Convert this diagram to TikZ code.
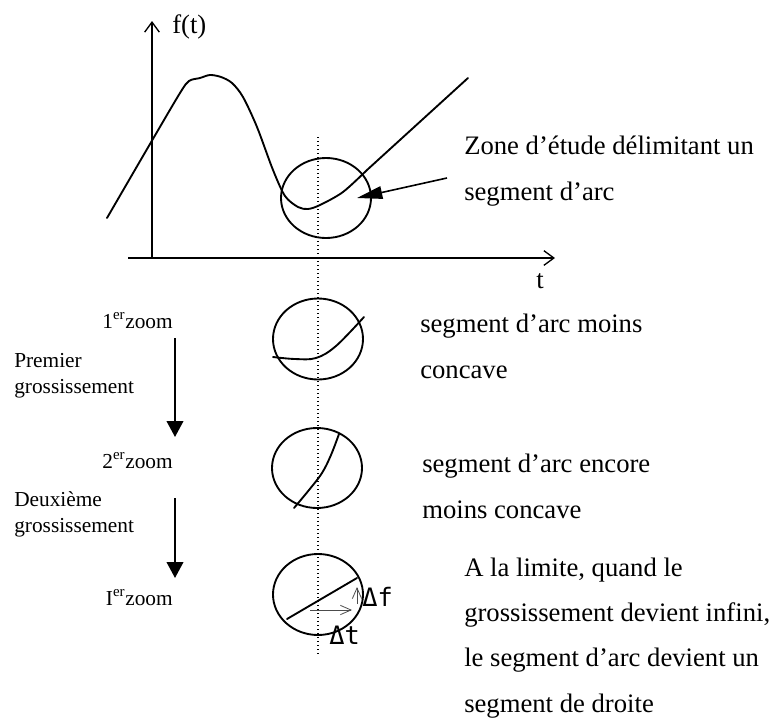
\documentclass[tikz,border=0pt]{standalone}
\usepackage{fontspec}
\setmainfont{Liberation Serif}
\newfontfamily\deltafont{DejaVu Sans Mono}
\usetikzlibrary{arrows.meta}
\tikzset{
  curveline/.style={line width=1.4pt, line join=round, line cap=round},
  axisline/.style={line width=1.3pt, -{Straight Barb[length=7.5pt,width=11pt,line width=1pt]}},
  bigtext/.style={font=\fontsize{20}{34}\selectfont, anchor=base west, inner sep=0pt, align=left},
  smalltext/.style={font=\fontsize{16}{19}\selectfont, inner sep=0pt},
  downarrow/.style={line width=1.4pt, -{Triangle[length=12pt,width=12.5pt]}},
  pointer/.style={line width=1.2pt, -{Triangle[length=19pt,width=9.5pt]}},
  deltaarrow/.style={line width=0.6pt, draw=black!70, -{Straight Barb[length=8pt,width=7pt,line width=0.6pt]}},
  deltatext/.style={font=\deltafont\fontsize{19}{19}\selectfont, inner sep=0pt},
  zoomcircle/.style={line width=1.4pt},
}
\begin{document}
\begin{tikzpicture}[x=0.75pt,y=-0.75pt]
\useasboundingbox (0,0) rectangle (769,722);
% axes
\coordinate (yb) at (152,258);
\coordinate (yt) at (152,21);
\coordinate (xl) at (128,258);
\coordinate (xr) at (555,258);
\draw[axisline] (yb) -- (yt);
\draw[axisline] (xl) -- (xr);
\node[font=\fontsize{20}{20}\selectfont, anchor=base west, inner sep=0pt] (ft) at (172,33) {f(t)};
\node[font=\fontsize{20}{20}\selectfont, anchor=base west, inner sep=0pt] (tl) at (536,288) {t};
% curve
\draw[curveline] plot[smooth, tension=0.5] coordinates {(107,218) (150,144) (180,93) (189,81) (200,78) (210,75) (221,77) (232,83) (243,97) (257,127) (273,170) (285,196) (298,207) (308,209) (320,205) (343,192) (367,170)} -- (468,78);
% dotted line
\coordinate (dtop) at (318,137);
\coordinate (dbot) at (318,656);
\draw[dotted, line width=1pt] (dtop) -- (dbot);
% top zone circle
\draw[zoomcircle] (326,198) ellipse [x radius=45, y radius=40];
\node[bigtext] (zone) at (464,200) {Zone d’étude délimitant un\\segment d’arc};
\coordinate (ptail) at (447,178);
\coordinate (phead) at (357,198);
\draw[pointer] (ptail) -- (phead);
% zoom 1
\draw[zoomcircle] (318,339) ellipse [x radius=45, y radius=40.5];
\draw[curveline] plot[smooth, tension=0.6] coordinates {(273,357) (295,359) (316,358) (336,346) (364,317)};
\node[bigtext] (t1) at (420,378) {segment d’arc moins\\concave};
% zoom 2
\draw[zoomcircle] (317,468) ellipse [x radius=45, y radius=40];
\draw[curveline] plot[smooth, tension=0.6] coordinates {(294,508) (309,490) (322,473) (331,455) (339,434)};
\node[bigtext] (t2) at (422,518) {segment d’arc encore\\moins concave};
% zoom 3
\draw[zoomcircle] (318,594.5) ellipse [x radius=45, y radius=40.5];
\coordinate (sa) at (287,619);
\coordinate (sb) at (357,578);
\draw[curveline] (sa) -- (sb);
\coordinate (ha) at (310,610);
\coordinate (hb) at (352,610);
\coordinate (va) at (357,604);
\coordinate (vb) at (357,587);
\draw[deltaarrow] (ha) -- (hb);
\draw[deltaarrow] (va) -- (vb);
\node[deltatext, anchor=west] (df) at (362,597) {Δf};
\node[deltatext, anchor=west] (dt) at (329,635) {Δt};
\node[bigtext] (t3) at (464,712) {A la limite, quand le\\grossissement devient infini,\\le segment d’arc devient un\\segment de droite};
% left column
\node[smalltext, anchor=base east] (z1) at (173,328) {1\textsuperscript{er}zoom};
\node[smalltext, anchor=base east] (z2) at (173,468) {2\textsuperscript{er}zoom};
\node[smalltext, anchor=base east] (z3) at (173,605) {I\textsuperscript{er}zoom};
\node[smalltext, anchor=base west, align=left] (g1) at (14,393) {Premier\\grossissement};
\node[smalltext, anchor=base west, align=left] (g2) at (14,532) {Deuxième\\grossissement};
\coordinate (a1t) at (175,338);
\coordinate (a1b) at (175,437);
\coordinate (a2t) at (175,498);
\coordinate (a2b) at (175,578);
\draw[downarrow] (a1t) -- (a1b);
\draw[downarrow] (a2t) -- (a2b);
\end{tikzpicture}
\end{document}
